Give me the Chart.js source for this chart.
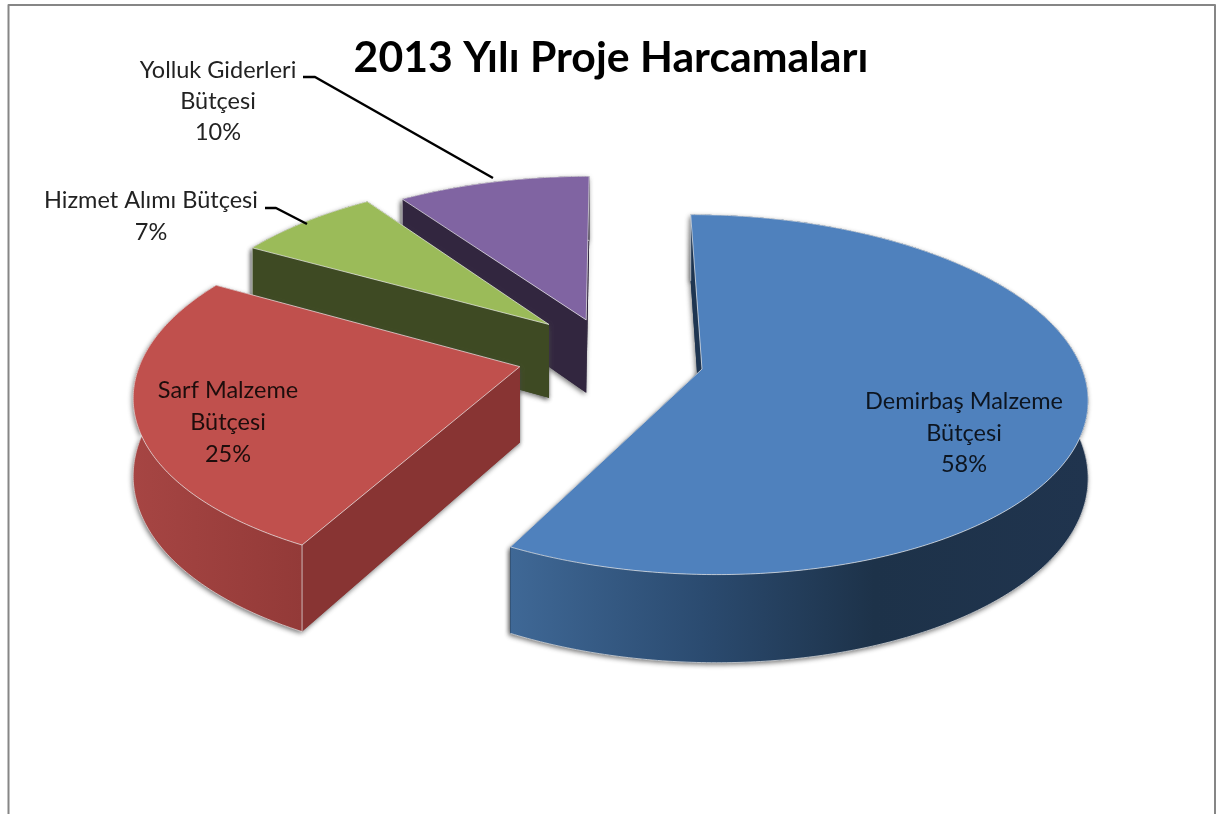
<!DOCTYPE html>
<html lang="tr">
<head>
<meta charset="utf-8">
<title>2013 Yılı Proje Harcamaları</title>
<script src="https://cdn.jsdelivr.net/npm/chart.js@4"></script>
<style>
html,body{margin:0;padding:0;background:#fff;overflow:hidden}
#wrap{position:relative;width:1217px;height:814px}
canvas{display:block;filter:blur(0.5px)}
</style>
</head>
<body>
<div id="wrap"><canvas id="c" width="1217" height="814"></canvas></div>
<script>
const chartTitle = '2013 Yılı Proje Harcamaları';
const categories = ['Demirbaş Malzeme Bütçesi', 'Sarf Malzeme Bütçesi', 'Hizmet Alımı Bütçesi', 'Yolluk Giderleri Bütçesi'];
const values = [57.8, 25.4, 7.2, 9.6];
const topColors = ['#4f81bd', '#c0504d', '#9bbb59', '#8064a2'];
const cutColors = ['#1e3551', '#883433', '#3e4a23', '#32263f'];
const wallStops = [
  [[0, '#3f6896'], [0.33, '#2b4b70'], [0.63, '#1d3249'], [1, '#20344e']],
  [[0, '#a64543'], [1, '#933a38']],
  [[0, '#3e4a23'], [1, '#3e4a23']],
  [[0, '#32263f'], [1, '#32263f']]
];
const explode = [93, 93, 86, 86];
const nudgeX = [1, 0, 1, 1];
const nudgeY = [0, -4, -8, -2];

// view of the pie plane
const CX = 610, CY = 358.6, TILT = 0.46, PERSP = 0.000373, DEPTH = 75;

const labelFont = '23.5px Lato, Carlito, sans-serif';
const labelLayout = [
  {x: 964, y: 409, lines: ['Demirbaş Malzeme', 'Bütçesi'], step: 31.5, color: '#0d1520'},
  {x: 228, y: 398, lines: ['Sarf Malzeme', 'Bütçesi'], step: 32, color: '#1d0d0c'},
  {x: 151, y: 208, lines: ['Hizmet Alımı Bütçesi'], step: 32, color: '#222'},
  {x: 218, y: 78, lines: ['Yolluk Giderleri', 'Bütçesi'], step: 31, color: '#222'}
];
const leaders = [
  [[303, 77], [315, 77], [493, 178]],
  [[265, 208], [276, 208], [307, 224]]
];

function project(X, Y, z, i) {
  const s = 1 / (1 - PERSP * Y);
  return [CX + nudgeX[i] + X * s, CY + nudgeY[i] + TILT * Y * s + z * DEPTH * s];
}
function pathOf(ctx, pts) {
  ctx.beginPath();
  pts.forEach((p, i) => i ? ctx.lineTo(p[0], p[1]) : ctx.moveTo(p[0], p[1]));
  ctx.closePath();
}
function sliceGeometry(el, off) {
  const p = el.getProps(['startAngle', 'endAngle', 'outerRadius'], true);
  const mid = (p.startAngle + p.endAngle) / 2;
  const ox = Math.cos(mid) * off, oy = Math.sin(mid) * off;
  const n = Math.max(8, Math.ceil((p.endAngle - p.startAngle) * 90));
  const rim = [];
  for (let i = 0; i <= n; i++) {
    const a = p.startAngle + (p.endAngle - p.startAngle) * i / n;
    rim.push([ox + p.outerRadius * Math.cos(a), oy + p.outerRadius * Math.sin(a)]);
  }
  return {apex: [ox, oy], rim};
}

const pie3d = {
  id: 'pie3d',
  beforeDatasetsDraw(chart) {
    const ctx = chart.ctx;
    const meta = chart.getDatasetMeta(0);
    for (let i = meta.data.length - 1; i >= 0; i--) {
      const g = sliceGeometry(meta.data[i], explode[i]);
      const topRim = g.rim.map(q => project(q[0], q[1], 0, i));
      const lowRim = g.rim.map(q => project(q[0], q[1], 1, i));
      const a0 = project(g.apex[0], g.apex[1], 0, i), a1 = project(g.apex[0], g.apex[1], 1, i);
      const face = [a0].concat(topRim);
      const wall = topRim.concat(lowRim.slice().reverse());
      const startCut = [a0, topRim[0], lowRim[0], a1];
      const endCut = [a0, topRim[topRim.length - 1], lowRim[lowRim.length - 1], a1];
      const xs = topRim.map(q => q[0]);
      const grad = ctx.createLinearGradient(Math.min(...xs), 0, Math.max(...xs), 0);
      wallStops[i].forEach(s => grad.addColorStop(s[0], s[1]));

      // soft shadow under the solid
      ctx.save();
      ctx.shadowColor = 'rgba(70,70,70,0.75)';
      ctx.shadowBlur = 5;
      ctx.shadowOffsetX = -1;
      ctx.shadowOffsetY = 2;
      ctx.fillStyle = cutColors[i];
      pathOf(ctx, wall); ctx.fill();
      pathOf(ctx, startCut); ctx.fill();
      pathOf(ctx, endCut); ctx.fill();
      ctx.restore();

      ctx.lineJoin = 'round';
      ctx.fillStyle = cutColors[i];
      pathOf(ctx, endCut); ctx.fill();
      ctx.fillStyle = grad;
      pathOf(ctx, wall); ctx.fill();
      // lit outline of the solid
      ctx.strokeStyle = 'rgba(225,225,225,0.75)';
      ctx.lineWidth = 1;
      ctx.beginPath();
      lowRim.forEach((p, k) => k ? ctx.lineTo(p[0], p[1]) : ctx.moveTo(p[0], p[1]));
      ctx.stroke();
      ctx.fillStyle = cutColors[i];
      pathOf(ctx, startCut); ctx.fill();
      ctx.beginPath(); ctx.moveTo(topRim[0][0], topRim[0][1]); ctx.lineTo(lowRim[0][0], lowRim[0][1]); ctx.stroke();

      ctx.fillStyle = topColors[i];
      pathOf(ctx, face); ctx.fill();
      ctx.strokeStyle = 'rgba(235,235,235,0.7)';
      pathOf(ctx, face); ctx.stroke();
    }
    return false;
  },
  afterDraw(chart) {
    const ctx = chart.ctx;
    // chart frame
    ctx.save();
    ctx.strokeStyle = '#868686';
    ctx.lineWidth = 2;
    ctx.beginPath();
    ctx.moveTo(8.5, 814); ctx.lineTo(8.5, 5); ctx.lineTo(1215, 5); ctx.lineTo(1215, 814);
    ctx.stroke();
    // leader lines
    ctx.strokeStyle = '#000';
    ctx.lineWidth = 2.5;
    leaders.forEach(l => {
      ctx.beginPath();
      l.forEach((p, i) => i ? ctx.lineTo(p[0], p[1]) : ctx.moveTo(p[0], p[1]));
      ctx.stroke();
    });
    // data labels
    ctx.font = labelFont;
    ctx.textAlign = 'center';
    ctx.textBaseline = 'alphabetic';
    const total = values.reduce((a, b) => a + b, 0);
    labelLayout.forEach((l, i) => {
      ctx.fillStyle = l.color;
      l.lines.concat([Math.round(values[i] / total * 100) + '%']).forEach((t, k) => {
        ctx.fillText(t, l.x, l.y + k * l.step);
      });
    });
    ctx.restore();
  }
};

new Chart(document.getElementById('c'), {
  type: 'pie',
  data: {
    labels: categories,
    datasets: [{data: values, backgroundColor: topColors, borderWidth: 0, offset: explode}]
  },
  options: {
    responsive: false,
    animation: false,
    rotation: 0,
    radius: 377,
    layout: {padding: {left: 5}},
    plugins: {
      legend: {display: false},
      tooltip: {enabled: false},
      title: {
        display: true,
        text: chartTitle,
        color: '#000',
        font: {family: 'Lato, Carlito, sans-serif', size: 42.75, weight: 'bold'},
        padding: {top: 33, bottom: 8}
      }
    }
  },
  plugins: [pie3d]
});
</script>
</body>
</html>
